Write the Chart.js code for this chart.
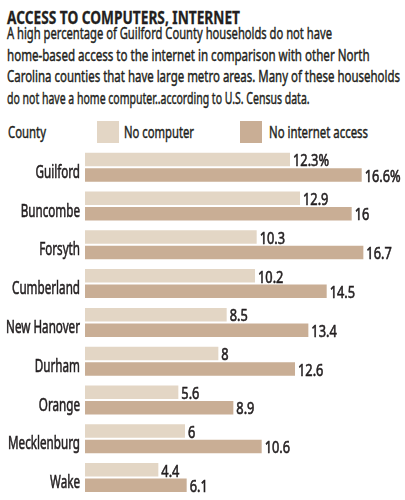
<!DOCTYPE html>
<html>
<head>
<meta charset="utf-8">
<script src="https://cdn.jsdelivr.net/npm/chart.js@4"></script>
<style>
  body { margin: 0; background: #fff; }
  #wrap { position: relative; width: 405px; height: 500px; overflow: hidden;
    font-family: "Noto Sans", sans-serif; color: #231f20; }
  .linha { position: absolute; white-space: nowrap; transform-origin: 0 0; -webkit-text-stroke: 0.45px #231f20; }
  #titulo { left: 7px; top: 6.4px; font-size: 17.5px; line-height: 22px; font-weight: bold; -webkit-text-stroke: 0.3px #231f20; }
  .texto { left: 7px; font-size: 17px; line-height: 21.7px; }
  .legenda { top: 121px; font-size: 16.5px; line-height: 22px; }
  .cor { position: absolute; top: 121px; width: 22px; height: 22px; }
  canvas { position: absolute; left: 0; top: 0; }
</style>
</head>
<body>
<div id="wrap">
  <div class="linha" id="titulo" data-largura="233">ACCESS TO COMPUTERS, INTERNET</div>
  <div class="linha texto" style="top:21.9px" data-largura="325">A high percentage of Guilford County households do not have</div>
  <div class="linha texto" style="top:43.6px" data-largura="362.6">home-based access to the internet in comparison with other North</div>
  <div class="linha texto" style="top:65.3px" data-largura="393">Carolina counties that have large metro areas. Many of these households</div>
  <div class="linha texto" style="top:87px" data-largura="302.6">do not have a home computer..according to U.S. Census data.</div>
  <div class="linha legenda" style="left:8px" data-largura="38">County</div>
  <div class="cor" id="cor1" style="left:97px"></div>
  <div class="linha legenda" style="left:124px" data-largura="70">No computer</div>
  <div class="cor" id="cor2" style="left:240px"></div>
  <div class="linha legenda" style="left:269px" data-largura="99">No internet access</div>
  <canvas id="grafico" width="405" height="500"></canvas>
</div>
<script>
const condados = ['Guilford', 'Buncombe', 'Forsyth', 'Cumberland', 'New Hanover', 'Durham', 'Orange', 'Mecklenburg', 'Wake'];
const semComputador = [12.3, 12.9, 10.3, 10.2, 8.5, 8, 5.6, 6, 4.4];
const semInternet = [16.6, 16, 16.7, 14.5, 13.4, 12.6, 8.9, 10.6, 6.1];

const corClara = '#e3d6c5';
const corEscura = '#c9ae95';
const corTexto = '#231f20';
const fonte = '"Noto Sans", sans-serif';

document.getElementById('cor1').style.background = corClara;
document.getElementById('cor2').style.background = corEscura;

// a fonte original e condensada: aperta cada linha ate a largura do original
document.querySelectorAll('.linha').forEach(el => {
  const alvo = parseFloat(el.dataset.largura);
  const w = el.getBoundingClientRect().width;
  el.style.transform = 'scaleX(' + (alvo / w) + ')';
});

// texto condensado no canvas
function textoCondensado(ctx, txt, x, y, k, alinhamento) {
  ctx.save();
  ctx.translate(x, y);
  ctx.scale(k, 1);
  ctx.textAlign = alinhamento;
  ctx.fillText(txt, 0, 0);
  ctx.strokeText(txt, 0, 0);
  ctx.restore();
}

// nomes dos condados e rotulos de valor
const rotulos = {
  id: 'rotulos',
  afterDatasetsDraw(chart) {
    const ctx = chart.ctx;
    const escalaY = chart.scales.y;
    ctx.save();
    ctx.fillStyle = corTexto;
    ctx.strokeStyle = corTexto;
    ctx.lineWidth = 0.6;
    ctx.textBaseline = 'alphabetic';

    ctx.font = '18px ' + fonte;
    const kNome = 72 / ctx.measureText('Mecklenburg').width;
    chart.data.labels.forEach((nome, j) => {
      textoCondensado(ctx, nome, escalaY.right - 5, escalaY.getPixelForValue(j) + 10.6, kNome, 'right');
    });

    ctx.font = '16px ' + fonte;
    const kValor = 36 / ctx.measureText('16.6%').width;
    chart.data.datasets.forEach((ds, i) => {
      chart.getDatasetMeta(i).data.forEach((barra, j) => {
        const txt = ds.data[j] + (j === 0 ? '%' : '');
        textoCondensado(ctx, txt, barra.x + 3, barra.y + 6.7, kValor, 'left');
      });
    });
    ctx.restore();
  }
};

new Chart(document.getElementById('grafico'), {
  type: 'bar',
  data: {
    labels: condados,
    datasets: [
      { label: 'No computer', data: semComputador, backgroundColor: corClara },
      { label: 'No internet access', data: semInternet, backgroundColor: corEscura }
    ]
  },
  options: {
    indexAxis: 'y',
    responsive: false,
    animation: false,
    categoryPercentage: 0.8,
    barPercentage: 0.87,
    layout: { padding: { top: 147.8, bottom: 3, left: 0, right: 3.3 } },
    plugins: { legend: { display: false }, tooltip: { enabled: false } },
    scales: {
      x: { display: false, min: 0, max: 19 },
      y: {
        afterFit: (escala) => { escala.width = 85; },
        grid: { display: false, drawTicks: false },
        border: { display: false },
        ticks: { display: false }
      }
    }
  },
  plugins: [rotulos]
});
</script>
</body>
</html>
